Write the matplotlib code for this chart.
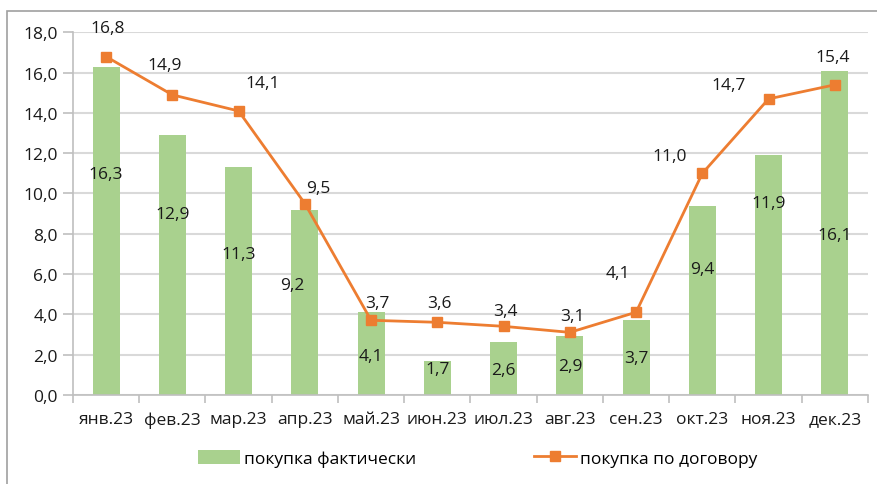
import matplotlib.pyplot as plt
import matplotlib.patches as mpatches
import numpy as np

plt.rcParams['font.family'] = ['Open Sans', 'DejaVu Sans']

months = ['янв.23', 'фев.23', 'мар.23', 'апр.23', 'май.23', 'июн.23',
          'июл.23', 'авг.23', 'сен.23', 'окт.23', 'ноя.23', 'дек.23']
fact = [16.3, 12.9, 11.3, 9.2, 4.1, 1.7, 2.6, 2.9, 3.7, 9.4, 11.9, 16.1]
contract = [16.8, 14.9, 14.1, 9.5, 3.7, 3.6, 3.4, 3.1, 4.1, 11.0, 14.7, 15.4]

# where excel put the data labels (x shift in categories, y in data units)
fact_lbl_dx = [0, 0, 0, -0.19, 0, 0, 0, 0, 0, 0, 0, 0]
fact_lbl_y = [10.96, 8.98, 6.98, 5.45, 1.92, 1.27, 1.23, 1.43, 1.82, 6.24, 9.52, 7.93]
contr_lbl_dx = [0.02, -0.12, 0.36, 0.2, 0.1, 0.03, 0.03, 0.04, -0.27, -0.5, -0.61, -0.03]
contr_lbl_y = [18.2, 16.4, 15.5, 10.27, 4.56, 4.56, 4.17, 3.9, 6.05, 11.85, 15.4, 16.8]

def fmt(v):
    return ('%.1f' % v).replace('.', ',')

green = '#A9D18E'
orange = '#ED7D31'
txt = '#1a1a1a'
fs = 12.5

fig = plt.figure(figsize=(8.77, 4.85), dpi=100)
ax = fig.add_axes([0.0832, 0.184, 0.9065, 0.747])
x = np.arange(len(months))

bars = ax.bar(x, fact, width=0.41, color=green, zorder=2, label='покупка фактически')
line, = ax.plot(x, contract, color=orange, lw=2, marker='s', ms=7, zorder=3,
                label='покупка по договору')

for i in range(len(months)):
    ax.text(x[i] + fact_lbl_dx[i], fact_lbl_y[i], fmt(fact[i]),
            ha='center', va='center', fontsize=fs, color=txt, zorder=4)
    ax.text(x[i] + contr_lbl_dx[i], contr_lbl_y[i], fmt(contract[i]),
            ha='center', va='center', fontsize=fs, color=txt, zorder=4)

ax.set_xlim(-0.5, len(months) - 0.5)
ax.set_ylim(0, 18)
ax.set_yticks(np.arange(0, 18.1, 2))
ax.set_yticklabels([fmt(v) for v in np.arange(0, 18.1, 2)])
ax.yaxis.grid(True, color='#d9d9d9', lw=1.5, zorder=0)
ax.set_axisbelow(True)
ax.set_xticks(x)
ax.set_xticklabels(months)
ax.set_xticks(np.arange(-0.5, len(months)), minor=True)
ax.tick_params(axis='x', which='major', length=0, pad=12, labelsize=fs, labelcolor=txt)
ax.tick_params(axis='x', which='minor', length=6, color='#bfbfbf', width=1.2)
ax.tick_params(axis='y', length=7, color='#bfbfbf', width=1.2, labelsize=fs,
               labelcolor=txt, pad=4)
for s in ['top', 'right']:
    ax.spines[s].set_visible(False)
ax.spines['left'].set_color('#bfbfbf')
ax.spines['bottom'].set_color('#bfbfbf')
ax.spines['left'].set_linewidth(1.2)
ax.spines['bottom'].set_linewidth(1.2)

fig.legend([bars, line], ['покупка фактически', 'покупка по договору'],
           loc='center', bbox_to_anchor=(0.545, 0.053), ncol=2, frameon=False,
           fontsize=fs, handlelength=2.4, handleheight=0.9, columnspacing=6.8,
           handletextpad=0.25)

fig.patches.append(mpatches.Rectangle((0.008, -0.1), 1.2, 1.075, transform=fig.transFigure,
                                      fill=False, edgecolor='#a0a0a0', lw=1.2))

plt.savefig('out.png')
